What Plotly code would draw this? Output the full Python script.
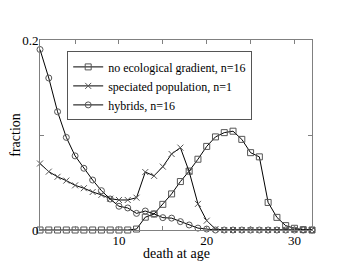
import plotly.graph_objects as go

age = list(range(1, 33))

no_gradient = [0, 0, 0, 0, 0, 0, 0, 0, 0, 0, 0, 0.001, 0.0135, 0.0168, 0.027, 0.038,
               0.051, 0.062, 0.0745, 0.088, 0.098, 0.1025, 0.104, 0.0954, 0.0814, 0.077,
               0.029, 0.0133, 0.0046, 0.0018, 0.0004, 0]
speciated = [0.070, 0.0614, 0.056, 0.052, 0.047, 0.044, 0.040, 0.037, 0.033, 0.0316,
             0.0316, 0.034, 0.061, 0.057, 0.0667, 0.080, 0.0867, 0.0614, 0.0275, 0.0098,
             0.001, 0, 0, 0, 0, 0, 0, 0, 0, 0, 0, 0]
hybrids = [0.190, 0.160, 0.1245, 0.0975, 0.078, 0.065, 0.0526, 0.0414, 0.0326, 0.025,
           0.0232, 0.0175, 0.020, 0.017, 0.013, 0.0125, 0.0088, 0.0053, 0.002, 0.001,
           0, 0, 0, 0, 0, 0, 0, 0, 0, 0, 0, 0]

names = ["no ecological gradient, n=16", "speciated population, n=1", "hybrids, n=16"]
symbols = ["square-open", "x-thin-open", "circle-open"]

fig = go.Figure()
for ys, nm, sym in zip([no_gradient, speciated, hybrids], names, symbols):
    fig.add_trace(go.Scatter(
        x=age, y=ys, name=nm, mode="lines+markers",
        line=dict(color="black", width=1),
        marker=dict(symbol=sym, size=6, color="#555555",
                    line=dict(color="#555555", width=1)),
        cliponaxis=False,
    ))

axis_style = dict(showline=True, linecolor="#808080", linewidth=1, mirror="ticks",
                  ticks="inside", ticklen=4, tickcolor="#808080", showgrid=False,
                  zeroline=False, automargin=False, ticklabelstandoff=-2,
                  tickfont=dict(size=13, color="black"))

serif = "Liberation Serif"

fig.update_layout(
    width=344, height=264,
    margin=dict(l=32, r=40, t=32, b=42),
    paper_bgcolor="white", plot_bgcolor="white",
    font=dict(family=serif, size=13, color="black"),
    xaxis=dict(range=[1, 32], tickvals=[5, 10, 15, 20, 25, 30],
               ticktext=["", "10", "", "20", "", "30"], **axis_style),
    yaxis=dict(range=[0, 0.2], tickvals=[0, 0.1, 0.2], ticktext=["0", "", "0.2"],
               title=dict(text="fraction", font=dict(size=14)),
               **axis_style),
    legend=dict(x=0.1, y=0.94, xanchor="left", yanchor="top",
                bordercolor="#555555", borderwidth=1, bgcolor="white",
                font=dict(family=serif, size=12), itemwidth=30, tracegroupgap=0),
    annotations=[dict(text="death at age", xref="paper", yref="paper",
                      x=0.5, y=0, xanchor="center", yanchor="top", yshift=-14,
                      showarrow=False, font=dict(size=14))],
)

fig.write_html("out.html")
